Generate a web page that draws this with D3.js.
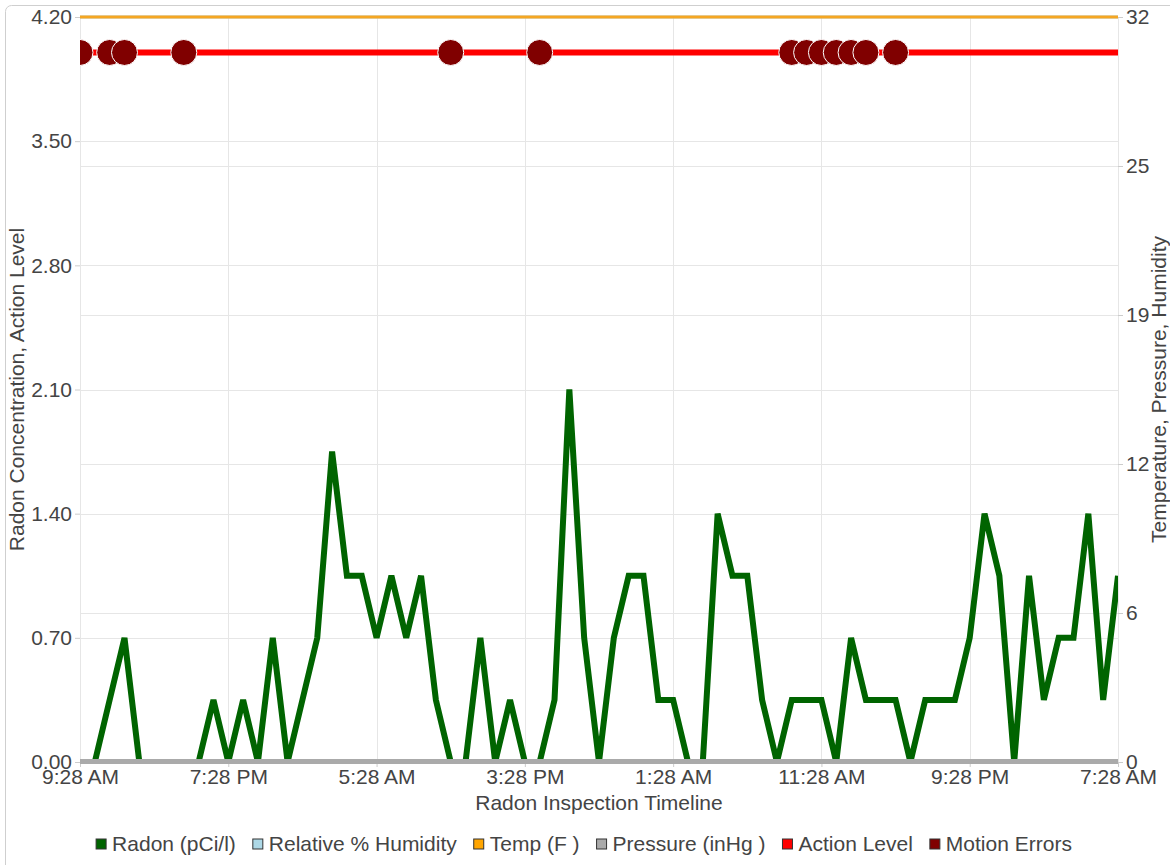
<!DOCTYPE html>
<html>
<head>
<meta charset="utf-8">
<script src="https://cdn.jsdelivr.net/npm/d3@7"></script>
<style>
  body { margin: 0; background: #fff; }
  text { font-family: "Liberation Sans", Arial, sans-serif; }
</style>
</head>
<body>
<div id="chart"></div>
<script>
// hourly readings, first one at 9:28 AM
const radon = [0, 0, 0.35, 0.70, 0, 0, 0, 0, 0, 0.35,
  0, 0.35, 0, 0.70, 0, 0.35, 0.70, 1.75, 1.05, 1.05,
  0.70, 1.05, 0.70, 1.05, 0.35, 0, 0, 0.70, 0, 0.35,
  0, 0, 0.35, 2.10, 0.70, 0, 0.70, 1.05, 1.05, 0.35,
  0.35, 0, 0, 1.40, 1.05, 1.05, 0.35, 0, 0.35, 0.35,
  0.35, 0, 0.70, 0.35, 0.35, 0.35, 0, 0.35, 0.35, 0.35,
  0.70, 1.40, 1.05, 0, 1.05, 0.35, 0.70, 0.70, 1.40, 0.35,
  1.05];
const motionErrors = [0, 2, 3, 7, 25, 31, 48, 49, 50, 51, 52, 53, 55]; // reading index
const actionLevel = 4.0;
const tempLevel = 32;      // off the top of the right axis
const humidityLevel = 32;  // hidden under temp
const pressureLevel = 0;

const xTickLabels = ["9:28 AM", "7:28 PM", "5:28 AM", "3:28 PM", "1:28 AM", "11:28 AM", "9:28 PM", "7:28 AM"];
const xTickStep = 10;
const leftTicks = [0, 0.7, 1.4, 2.1, 2.8, 3.5, 4.2];
const rightTicks = [0, 6.4, 12.8, 19.2, 25.6, 32];

const legendItems = [
  { name: "Radon (pCi/l)", color: "#006400" },
  { name: "Relative % Humidity", color: "#add8e6" },
  { name: "Temp (F )", color: "#ffa500" },
  { name: "Pressure (inHg )", color: "#aaaaaa" },
  { name: "Action Level", color: "#ff0000" },
  { name: "Motion Errors", color: "#800000" }
];

const W = 1170, H = 865;
const m = { left: 80, right: 52, top: 17, bottom: 103 };
const fs = "21px";

const svg = d3.select("#chart").append("svg")
  .attr("width", W).attr("height", H);

svg.append("rect")
  .attr("x", 5.5).attr("y", 5.5).attr("width", 1200).attr("height", 900).attr("rx", 6)
  .attr("fill", "none").attr("stroke", "#cfcfcf");

const x = d3.scaleLinear().domain([0, radon.length - 1]).range([m.left, W - m.right]);
const yL = d3.scaleLinear().domain([0, 4.2]).range([H - m.bottom, m.top]);
const yR = d3.scaleLinear().domain([0, 32]).range([H - m.bottom, m.top]);

const x0 = x.range()[0], x1 = x.range()[1], yb = yL.range()[0], yt = yL.range()[1];
const xTickVals = xTickLabels.map((d, i) => i * xTickStep);

// grid
const grid = svg.append("g").attr("stroke", "#e6e6e6").attr("stroke-width", 1);
leftTicks.forEach(t => grid.append("line").attr("x1", x0).attr("x2", x1)
  .attr("y1", Math.round(yL(t)) + 0.5).attr("y2", Math.round(yL(t)) + 0.5));
rightTicks.forEach(t => grid.append("line").attr("x1", x0).attr("x2", x1)
  .attr("y1", Math.round(yR(t)) + 0.5).attr("y2", Math.round(yR(t)) + 0.5));
xTickVals.forEach(t => grid.append("line").attr("y1", yt).attr("y2", yb)
  .attr("x1", Math.round(x(t)) + 0.5).attr("x2", Math.round(x(t)) + 0.5));

// axes
const styleAxis = g => {
  g.select(".domain").remove();
  g.selectAll(".tick line").attr("stroke", "#cccccc");
  g.selectAll(".tick text").attr("fill", "#444").style("font-size", fs)
    .style("font-family", "'Liberation Sans', Arial, sans-serif");
};

svg.append("g").attr("transform", `translate(${x0},0)`)
  .call(d3.axisLeft(yL).tickValues(leftTicks).tickFormat(d3.format(".2f")).tickSize(5).tickPadding(3))
  .call(styleAxis);

svg.append("g").attr("transform", `translate(${x1},0)`)
  .call(d3.axisRight(yR).tickValues(rightTicks).tickFormat(d => Math.floor(d)).tickSize(5).tickPadding(3))
  .call(styleAxis);

svg.append("g").attr("transform", `translate(0,${yb})`)
  .call(d3.axisBottom(x).tickValues(xTickVals).tickFormat((d, i) => xTickLabels[i]).tickSize(5).tickPadding(2))
  .call(styleAxis);

// axis titles
svg.append("text").attr("x", (x0 + x1) / 2).attr("y", 810).attr("text-anchor", "middle")
  .attr("fill", "#444").style("font-size", fs).text("Radon Inspection Timeline");
svg.append("text").attr("transform", `translate(24,${(yt + yb) / 2}) rotate(-90)`)
  .attr("text-anchor", "middle").attr("fill", "#444").style("font-size", fs)
  .text("Radon Concentration, Action Level");
svg.append("text").attr("transform", `translate(1166,${(yt + yb) / 2}) rotate(-90)`)
  .attr("text-anchor", "middle").attr("fill", "#444").style("font-size", fs)
  .text("Temperature, Pressure, Humidity");

// clip
const defs = svg.append("defs");
defs.append("clipPath").attr("id", "plot").append("rect")
  .attr("x", x0).attr("y", yt - 6).attr("width", x1 - x0).attr("height", yb - yt + 10);
defs.append("clipPath").attr("id", "plotRadon").append("rect")
  .attr("x", x0).attr("y", yt - 6).attr("width", x1 - x0).attr("height", yb - yt + 3);

const plot = svg.append("g").attr("clip-path", "url(#plot)");

const line = d3.line().x((d, i) => x(i)).y(d => yL(d));
svg.append("g").attr("clip-path", "url(#plotRadon)")
  .append("path").datum(radon).attr("d", line)
  .attr("fill", "none").attr("stroke", "#006400").attr("stroke-width", 6);

const hLine = (yv, color, w) => plot.append("line")
  .attr("x1", x0).attr("x2", x1).attr("y1", yv).attr("y2", yv)
  .attr("stroke", color).attr("stroke-width", w);

hLine(yR(humidityLevel), "#add8e6", 3);
hLine(yR(tempLevel), "#f5a623", 3);
hLine(yR(pressureLevel) - 0.5, "#aaaaaa", 5);
hLine(yL(actionLevel), "#ff0000", 6);

plot.selectAll("circle.err").data(motionErrors).enter().append("circle")
  .attr("class", "err")
  .attr("cx", d => x(d)).attr("cy", yL(actionLevel)).attr("r", 13)
  .attr("fill", "#800000").attr("stroke", "#ffffff").attr("stroke-width", 1);

// legend
const legend = svg.append("g").attr("transform", "translate(0,844)");
const items = legend.selectAll("g").data(legendItems).enter().append("g");
items.append("rect").attr("width", 10).attr("height", 10).attr("y", -5)
  .attr("fill", d => d.color).attr("stroke", "#333").attr("stroke-width", 1);
items.append("text").attr("x", 16).attr("dy", "0.35em").attr("fill", "#444")
  .style("font-size", fs).text(d => d.name);
let cx = 0;
const offs = [];
items.each(function() {
  offs.push(cx);
  cx += 16 + this.querySelector("text").getComputedTextLength() + 17;
});
const total = cx - 17;
const startX = 584 - total / 2;
items.attr("transform", (d, i) => `translate(${startX + offs[i]},0)`);
</script>
</body>
</html>
